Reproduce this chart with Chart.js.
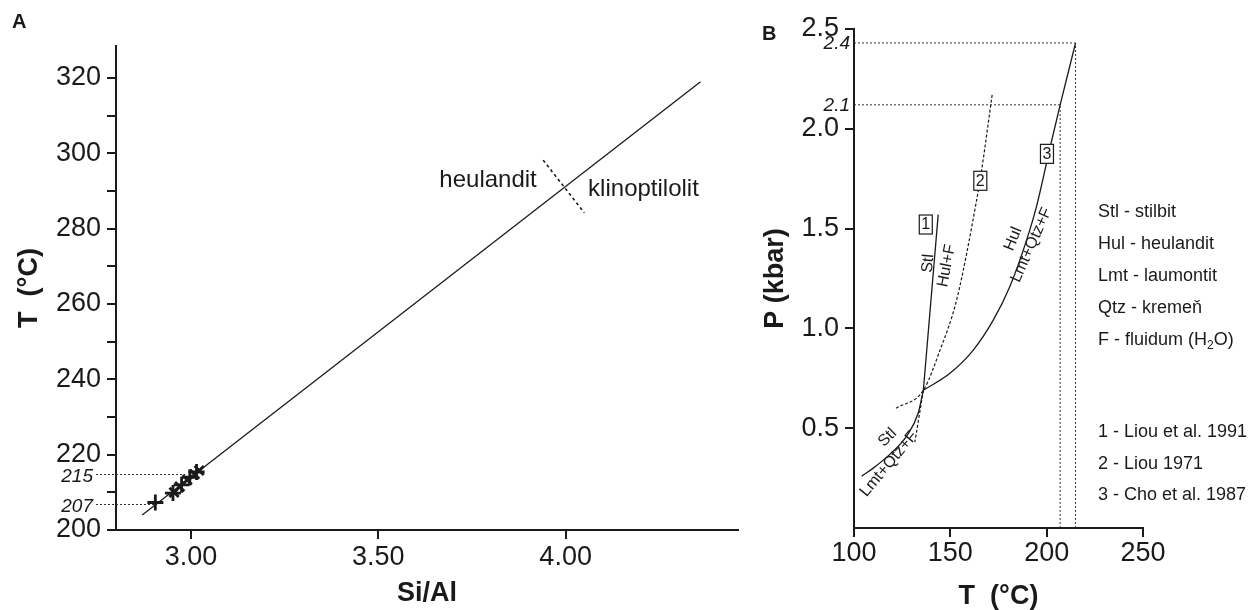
<!DOCTYPE html>
<html>
<head>
<meta charset="utf-8">
<script src="https://cdn.jsdelivr.net/npm/chart.js@4.4.1/dist/chart.umd.min.js"></script>
<style>
  html, body { margin: 0; padding: 0; background: #fff; }
  #wrap { position: relative; width: 1255px; height: 610px; }
  #chartA { position: absolute; left: 0; top: 0; }
  #chartB { position: absolute; left: 760px; top: 0; }
</style>
</head>
<body>
<div id="wrap">
  <canvas id="chartA" width="760" height="610"></canvas>
  <canvas id="chartB" width="495" height="610"></canvas>
</div>
<script>
// ---- Panel A: Si/Al vs T ----
const trendSiAl = [2.87, 4.36];
const trendTemp = [204, 319];
const boundarySiAl = [3.94, 4.05];
const boundaryTemp = [298.2, 284.2];
const plusSiAl = [2.905, 2.952, 2.975, 2.997, 3.015];
const plusTemp = [207.3, 209.8, 212, 214, 215.4];
const crossSiAl = [2.955, 2.97, 2.99, 3.01, 3.022];
const crossTemp = [210, 211.5, 213.3, 214.8, 215.8];
const refTemps = [215, 207];
const refSiAl = [2.985, 2.91];
const siAlTicks = [3.0, 3.5, 4.0];

// ---- Panel B: T vs P ----
const curve1T = [136, 143.7];
const curve1P = [0.69, 1.57];
const curve2T = [121.8, 136, 144.6, 153.2, 163.6, 166.2, 171.7];
const curve2P = [0.60, 0.69, 0.89, 1.14, 1.64, 1.79, 2.17];
const curve2bT = [136, 131.6];
const curve2bP = [0.69, 0.43];
const curve3lowT = [104, 110, 118.7, 127.3, 133.3, 136];
const curve3lowP = [0.26, 0.30, 0.37, 0.46, 0.575, 0.69];
const curve3highT = [136, 149.8, 161.8, 172.2, 180.9, 189.5, 194.7, 201.6, 207, 215];
const curve3highP = [0.69, 0.775, 0.89, 1.04, 1.21, 1.44, 1.61, 1.90, 2.12, 2.43];
const markT = [207, 215];
const markP = [2.12, 2.43];
const markLabels = ['2.1', '2.4'];
const pTicks = [0.5, 1.0, 1.5, 2.0, 2.5];

const legendAbbr = ['Stl - stilbit', 'Hul - heulandit', 'Lmt - laumontit', 'Qtz - kremeň'];
const legendRefs = ['1 - Liou et al. 1991', '2 - Liou 1971', '3 - Cho et al. 1987'];

const FONT = '"Liberation Sans", Arial, Helvetica, sans-serif';
const INK = '#1a1a1a';
Chart.defaults.font.family = FONT;
Chart.defaults.color = INK;

function pts(xs, ys) {
  return xs.map((x, i) => ({ x: x, y: ys[i] }));
}

function lineSet(xs, ys, opts) {
  return Object.assign({
    data: pts(xs, ys),
    showLine: true,
    pointRadius: 0,
    borderColor: INK,
    borderWidth: 1.3,
    fill: false
  }, opts || {});
}

function axisCommon(size) {
  return {
    grid: { drawOnChartArea: false, drawTicks: true, tickLength: 9, lineWidth: 2, color: INK },
    border: { display: true, color: INK, width: 2 },
    ticks: { font: { size: size }, color: INK, autoSkip: false, maxRotation: 0 }
  };
}

function rotText(ctx, txt, px, py, deg) {
  ctx.save();
  ctx.translate(px, py);
  ctx.rotate(deg * Math.PI / 180);
  ctx.textAlign = 'center';
  ctx.textBaseline = 'middle';
  ctx.fillText(txt, 0, 0);
  ctx.restore();
}

function boxText(ctx, txt, px, py) {
  ctx.save();
  ctx.fillStyle = '#fff';
  ctx.fillRect(px - 6, py - 9, 13, 19);
  ctx.strokeStyle = INK;
  ctx.lineWidth = 1.2;
  ctx.strokeRect(px - 6, py - 9, 13, 19);
  ctx.fillStyle = INK;
  ctx.font = '16px ' + FONT;
  ctx.textAlign = 'center';
  ctx.textBaseline = 'middle';
  ctx.fillText(txt, px + 0.5, py + 1);
  ctx.restore();
}

// Text and reference lines for panel A
const annotA = {
  id: 'annotA',
  afterDraw(chart) {
    const { ctx, scales: { x, y } } = chart;
    ctx.save();
    ctx.fillStyle = INK;
    ctx.font = 'bold 20px ' + FONT;
    ctx.fillText('A', 12, 28);

    // dotted reference lines out to the temperature axis
    ctx.strokeStyle = '#333';
    ctx.lineWidth = 1;
    ctx.setLineDash([2, 2]);
    refTemps.forEach((t, i) => {
      const py = Math.round(y.getPixelForValue(t)) + 0.5;
      ctx.beginPath();
      ctx.moveTo(x.left - 20, py);
      ctx.lineTo(x.getPixelForValue(refSiAl[i]), py);
      ctx.stroke();
    });
    ctx.setLineDash([]);

    ctx.font = 'italic 19px ' + FONT;
    ctx.textAlign = 'right';
    ctx.textBaseline = 'middle';
    refTemps.forEach(t => {
      ctx.fillText(String(t), x.left - 23, y.getPixelForValue(t) + 3);
    });

    ctx.font = '24px ' + FONT;
    ctx.textBaseline = 'alphabetic';
    ctx.textAlign = 'right';
    ctx.fillText('heulandit', x.getPixelForValue(3.923), y.getPixelForValue(291));
    ctx.textAlign = 'left';
    ctx.fillText('klinoptilolit', x.getPixelForValue(4.06), y.getPixelForValue(288.7));
    ctx.restore();
  }
};

// Text for panel B
const annotB = {
  id: 'annotB',
  afterDatasetsDraw(chart) {
    const { ctx, scales: { x, y } } = chart;
    boxText(ctx, '1', x.getPixelForValue(137.0), y.getPixelForValue(1.523));
    boxText(ctx, '2', x.getPixelForValue(165.3), y.getPixelForValue(1.742));
    boxText(ctx, '3', x.getPixelForValue(199.9), y.getPixelForValue(1.877));
  },
  afterDraw(chart) {
    const { ctx, scales: { x, y } } = chart;
    ctx.save();
    ctx.fillStyle = INK;
    ctx.font = 'bold 20px ' + FONT;
    ctx.fillText('B', 2, 40);

    ctx.font = 'italic 19px ' + FONT;
    ctx.textAlign = 'right';
    ctx.textBaseline = 'middle';
    markP.forEach((p, i) => {
      ctx.fillText(markLabels[i], x.left - 4, y.getPixelForValue(p) + 1);
    });

    ctx.font = '16px ' + FONT;
    const px = v => x.getPixelForValue(v);
    const py = v => y.getPixelForValue(v);
    rotText(ctx, 'Stl', px(138.5), py(1.326), -85);
    rotText(ctx, 'Hul+F', px(148.1), py(1.314), -79);
    rotText(ctx, 'Hul', px(182.6), py(1.448), -68);
    rotText(ctx, 'Lmt+Qtz+F', px(192.1), py(1.418), -66);
    rotText(ctx, 'Stl', px(117.4), py(0.453), -45);
    rotText(ctx, 'Lmt+Qtz+F', px(118.1), py(0.321), -50);

    // legend
    ctx.font = '18px ' + FONT;
    ctx.textAlign = 'left';
    ctx.textBaseline = 'alphabetic';
    const lx = x.right - 45;
    legendAbbr.forEach((t, i) => {
      ctx.fillText(t, lx, 217 + i * 32);
    });
    let fx = lx;
    const fy = 217 + 4 * 32;
    const part1 = 'F - fluidum (H';
    ctx.fillText(part1, fx, fy);
    fx += ctx.measureText(part1).width;
    ctx.font = '12px ' + FONT;
    ctx.fillText('2', fx, fy + 4);
    fx += ctx.measureText('2').width;
    ctx.font = '18px ' + FONT;
    ctx.fillText('O)', fx, fy);
    legendRefs.forEach((t, i) => {
      ctx.fillText(t, lx, 437 + i * 31.5);
    });
    ctx.restore();
  }
};

const axA = axisCommon(27);
const ayA = axisCommon(27);

new Chart(document.getElementById('chartA'), {
  type: 'scatter',
  data: {
    datasets: [
      lineSet(trendSiAl, trendTemp),
      lineSet(boundarySiAl, boundaryTemp, { borderDash: [3, 3], borderWidth: 1.6 }),
      {
        data: pts(plusSiAl, plusTemp),
        pointStyle: 'cross', pointRadius: 8, borderWidth: 2.8,
        borderColor: INK, backgroundColor: INK
      },
      {
        data: pts(crossSiAl, crossTemp),
        pointStyle: 'crossRot', pointRadius: 6.5, borderWidth: 2.8,
        borderColor: INK, backgroundColor: INK
      }
    ]
  },
  options: {
    responsive: false,
    animation: false,
    layout: { padding: { left: 0, top: 46, right: 22, bottom: 0 } },
    plugins: { legend: { display: false }, tooltip: { enabled: false } },
    scales: {
      x: {
        type: 'linear', min: 2.80, max: 4.46,
        grid: axA.grid, border: axA.border,
        ticks: Object.assign({}, axA.ticks, { padding: 2, callback: v => v.toFixed(2) }),
        afterBuildTicks: s => { s.ticks = siAlTicks.map(v => ({ value: v })); },
        afterFit: s => { s.height = 80; },
        title: { display: true, text: 'Si/Al', font: { size: 27, weight: 'bold', lineHeight: 1 }, padding: { top: 0, bottom: 3 }, color: INK }
      },
      y: {
        type: 'linear', min: 200, max: 328.5,
        grid: ayA.grid, border: ayA.border,
        ticks: Object.assign({}, ayA.ticks, {
          stepSize: 10, includeBounds: false, padding: 6,
          callback: v => (v % 20 === 0 ? String(v) : '')
        }),
        afterFit: s => { s.width = 116; },
        title: { display: true, text: 'T  (°C)', font: { size: 27, weight: 'bold', lineHeight: 1 }, padding: { top: 16, bottom: 0 }, color: INK }
      }
    }
  },
  plugins: [annotA]
});

const axB = axisCommon(27);
const ayB = axisCommon(27);

new Chart(document.getElementById('chartB'), {
  type: 'scatter',
  data: {
    datasets: [
      lineSet(curve1T, curve1P),
      lineSet(curve2T, curve2P, { borderDash: [3, 2], borderWidth: 1.2, cubicInterpolationMode: 'monotone' }),
      lineSet(curve2bT, curve2bP, { borderDash: [3, 2], borderWidth: 1.2 }),
      lineSet(curve3lowT, curve3lowP, { cubicInterpolationMode: 'monotone' }),
      lineSet(curve3highT, curve3highP, { cubicInterpolationMode: 'monotone' }),
      // dotted guides
      lineSet([100, markT[0]], [markP[0], markP[0]], { borderDash: [2, 2], borderWidth: 1, borderColor: '#333' }),
      lineSet([100, markT[1]], [markP[1], markP[1]], { borderDash: [2, 2], borderWidth: 1, borderColor: '#333' }),
      lineSet([markT[0], markT[0]], [0, markP[0]], { borderDash: [2, 2], borderWidth: 1, borderColor: '#333' }),
      lineSet([markT[1], markT[1]], [0, markP[1]], { borderDash: [2, 2], borderWidth: 1, borderColor: '#333' })
    ]
  },
  options: {
    responsive: false,
    animation: false,
    layout: { padding: { left: 0, top: 29, right: 112, bottom: 0 } },
    plugins: { legend: { display: false }, tooltip: { enabled: false } },
    scales: {
      x: {
        type: 'linear', min: 100, max: 250,
        grid: axB.grid, border: axB.border,
        ticks: Object.assign({}, axB.ticks, { stepSize: 50, padding: 0 }),
        afterFit: s => { s.height = 82; },
        title: { display: true, text: 'T  (°C)', font: { size: 27, weight: 'bold', lineHeight: 1 }, padding: { top: 0, bottom: 0 }, color: INK }
      },
      y: {
        type: 'linear', min: 0, max: 2.5,
        grid: ayB.grid, border: ayB.border,
        ticks: Object.assign({}, ayB.ticks, { padding: 6, callback: v => v.toFixed(1) }),
        afterBuildTicks: s => { s.ticks = pTicks.map(v => ({ value: v })); },
        afterFit: s => { s.width = 94; },
        title: { display: true, text: 'P (kbar)', font: { size: 27, weight: 'bold', lineHeight: 1 }, padding: { top: 2, bottom: 0 }, color: INK }
      }
    }
  },
  plugins: [annotB]
});
</script>
</body>
</html>
